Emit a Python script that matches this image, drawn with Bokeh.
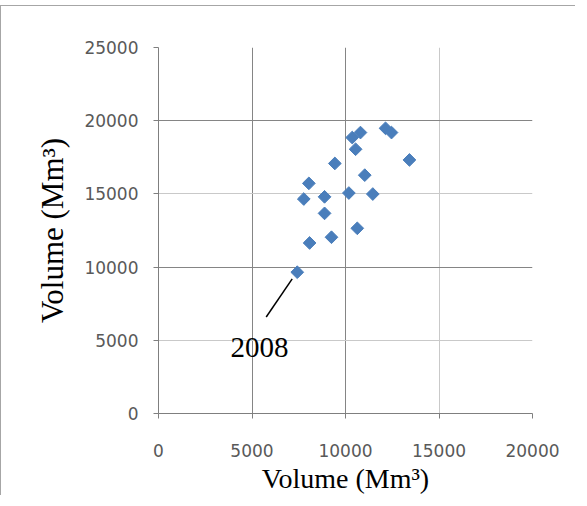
from bokeh.plotting import figure
from bokeh.models import ColumnDataSource, FixedTicker, Grid, Label, Range1d
from bokeh.embed import file_html
from bokeh.resources import INLINE

# ---- data ----
vol_x = [10800, 10360, 10540, 12140, 12460, 9430, 13420, 11030, 8040,
         7770, 8880, 10180, 11460, 8880, 10630, 9250, 8080, 7420]
vol_y = [19190, 18850, 18050, 19480, 19190, 17080, 17320, 16280, 15720,
         14650, 14800, 15060, 14990, 13670, 12650, 12040, 11650, 9650]

x_ticks = [0, 5000, 10000, 15000, 20000]
y_ticks = [0, 5000, 10000, 15000, 20000, 25000]

label_text = "2008"
label_x, label_y = 5400, 4500
leader_x0, leader_y0, leader_x1, leader_y1 = 5760, 6590, 7150, 9200

axis_title = "Volume (Mm\u00b3)"

p = figure(width=575, height=490, output_backend="svg", toolbar_location=None,
           x_range=Range1d(0, 20000), y_range=Range1d(0, 25000),
           min_border_left=157, min_border_right=44,
           min_border_top=41, min_border_bottom=82)
p.styles = {"margin-top": "5px", "border-top": "1px solid #a6a6a6",
            "border-left": "1px solid #a6a6a6"}
p.background_fill_color = "white"
p.border_fill_color = "white"
p.outline_line_color = None

# grids: default off, add custom ones
p.xgrid.visible = False
p.ygrid.visible = False
dark = "#858585"
light = "#c9c9c9"
p.add_layout(Grid(dimension=0, ticker=FixedTicker(ticks=[0, 5000, 10000]),
                  grid_line_color=dark))
p.add_layout(Grid(dimension=0, ticker=FixedTicker(ticks=[15000]),
                  grid_line_color=light))
p.add_layout(Grid(dimension=0, ticker=FixedTicker(ticks=[20000]),
                  grid_line_color="#a8a8a8"))
p.add_layout(Grid(dimension=1, ticker=FixedTicker(ticks=[0, 10000, 20000]),
                  grid_line_color=dark))
p.add_layout(Grid(dimension=1, ticker=FixedTicker(ticks=[5000, 15000, 25000]),
                  grid_line_color=light))

for ax, ticks in ((p.xaxis[0], x_ticks), (p.yaxis[0], y_ticks)):
    ax.ticker = FixedTicker(ticks=ticks)
    ax.minor_tick_line_color = None
    ax.major_tick_in = 0
    ax.major_tick_out = 5
    ax.axis_line_color = "#7f7f7f"
    ax.major_tick_line_color = "#7f7f7f"
    ax.major_label_text_font = "DejaVu Sans"
    ax.major_label_text_font_size = "17px"
    ax.major_label_text_color = "#595959"
    ax.axis_label = axis_title
    ax.axis_label_text_font = "Liberation Serif"
    ax.axis_label_text_font_style = "normal"
    ax.axis_label_text_color = "black"

p.xaxis.major_label_standoff = 25
p.xaxis.axis_label_standoff = 3
p.xaxis.axis_label_text_font_size = "28px"
p.yaxis.major_label_standoff = 15
p.yaxis.axis_label_standoff = 11
p.yaxis.axis_label_text_font_size = "31px"

src = ColumnDataSource(data=dict(x=vol_x, y=vol_y))
p.scatter("x", "y", source=src, marker="square", size=9, angle=0.785,
          fill_color="#4a7ebb", line_color="#4a7ebb")

lead = ColumnDataSource(data=dict(x0=[leader_x0], y0=[leader_y0],
                                  x1=[leader_x1], y1=[leader_y1]))
p.segment("x0", "y0", "x1", "y1", source=lead, line_color="black", line_width=1.5)

p.add_layout(Label(x=label_x, y=label_y, text=label_text, text_align="center",
                   text_baseline="alphabetic", text_font="Liberation Serif",
                   text_font_size="29px", text_color="black"))

open("out.html", "w").write(file_html(p, INLINE))
